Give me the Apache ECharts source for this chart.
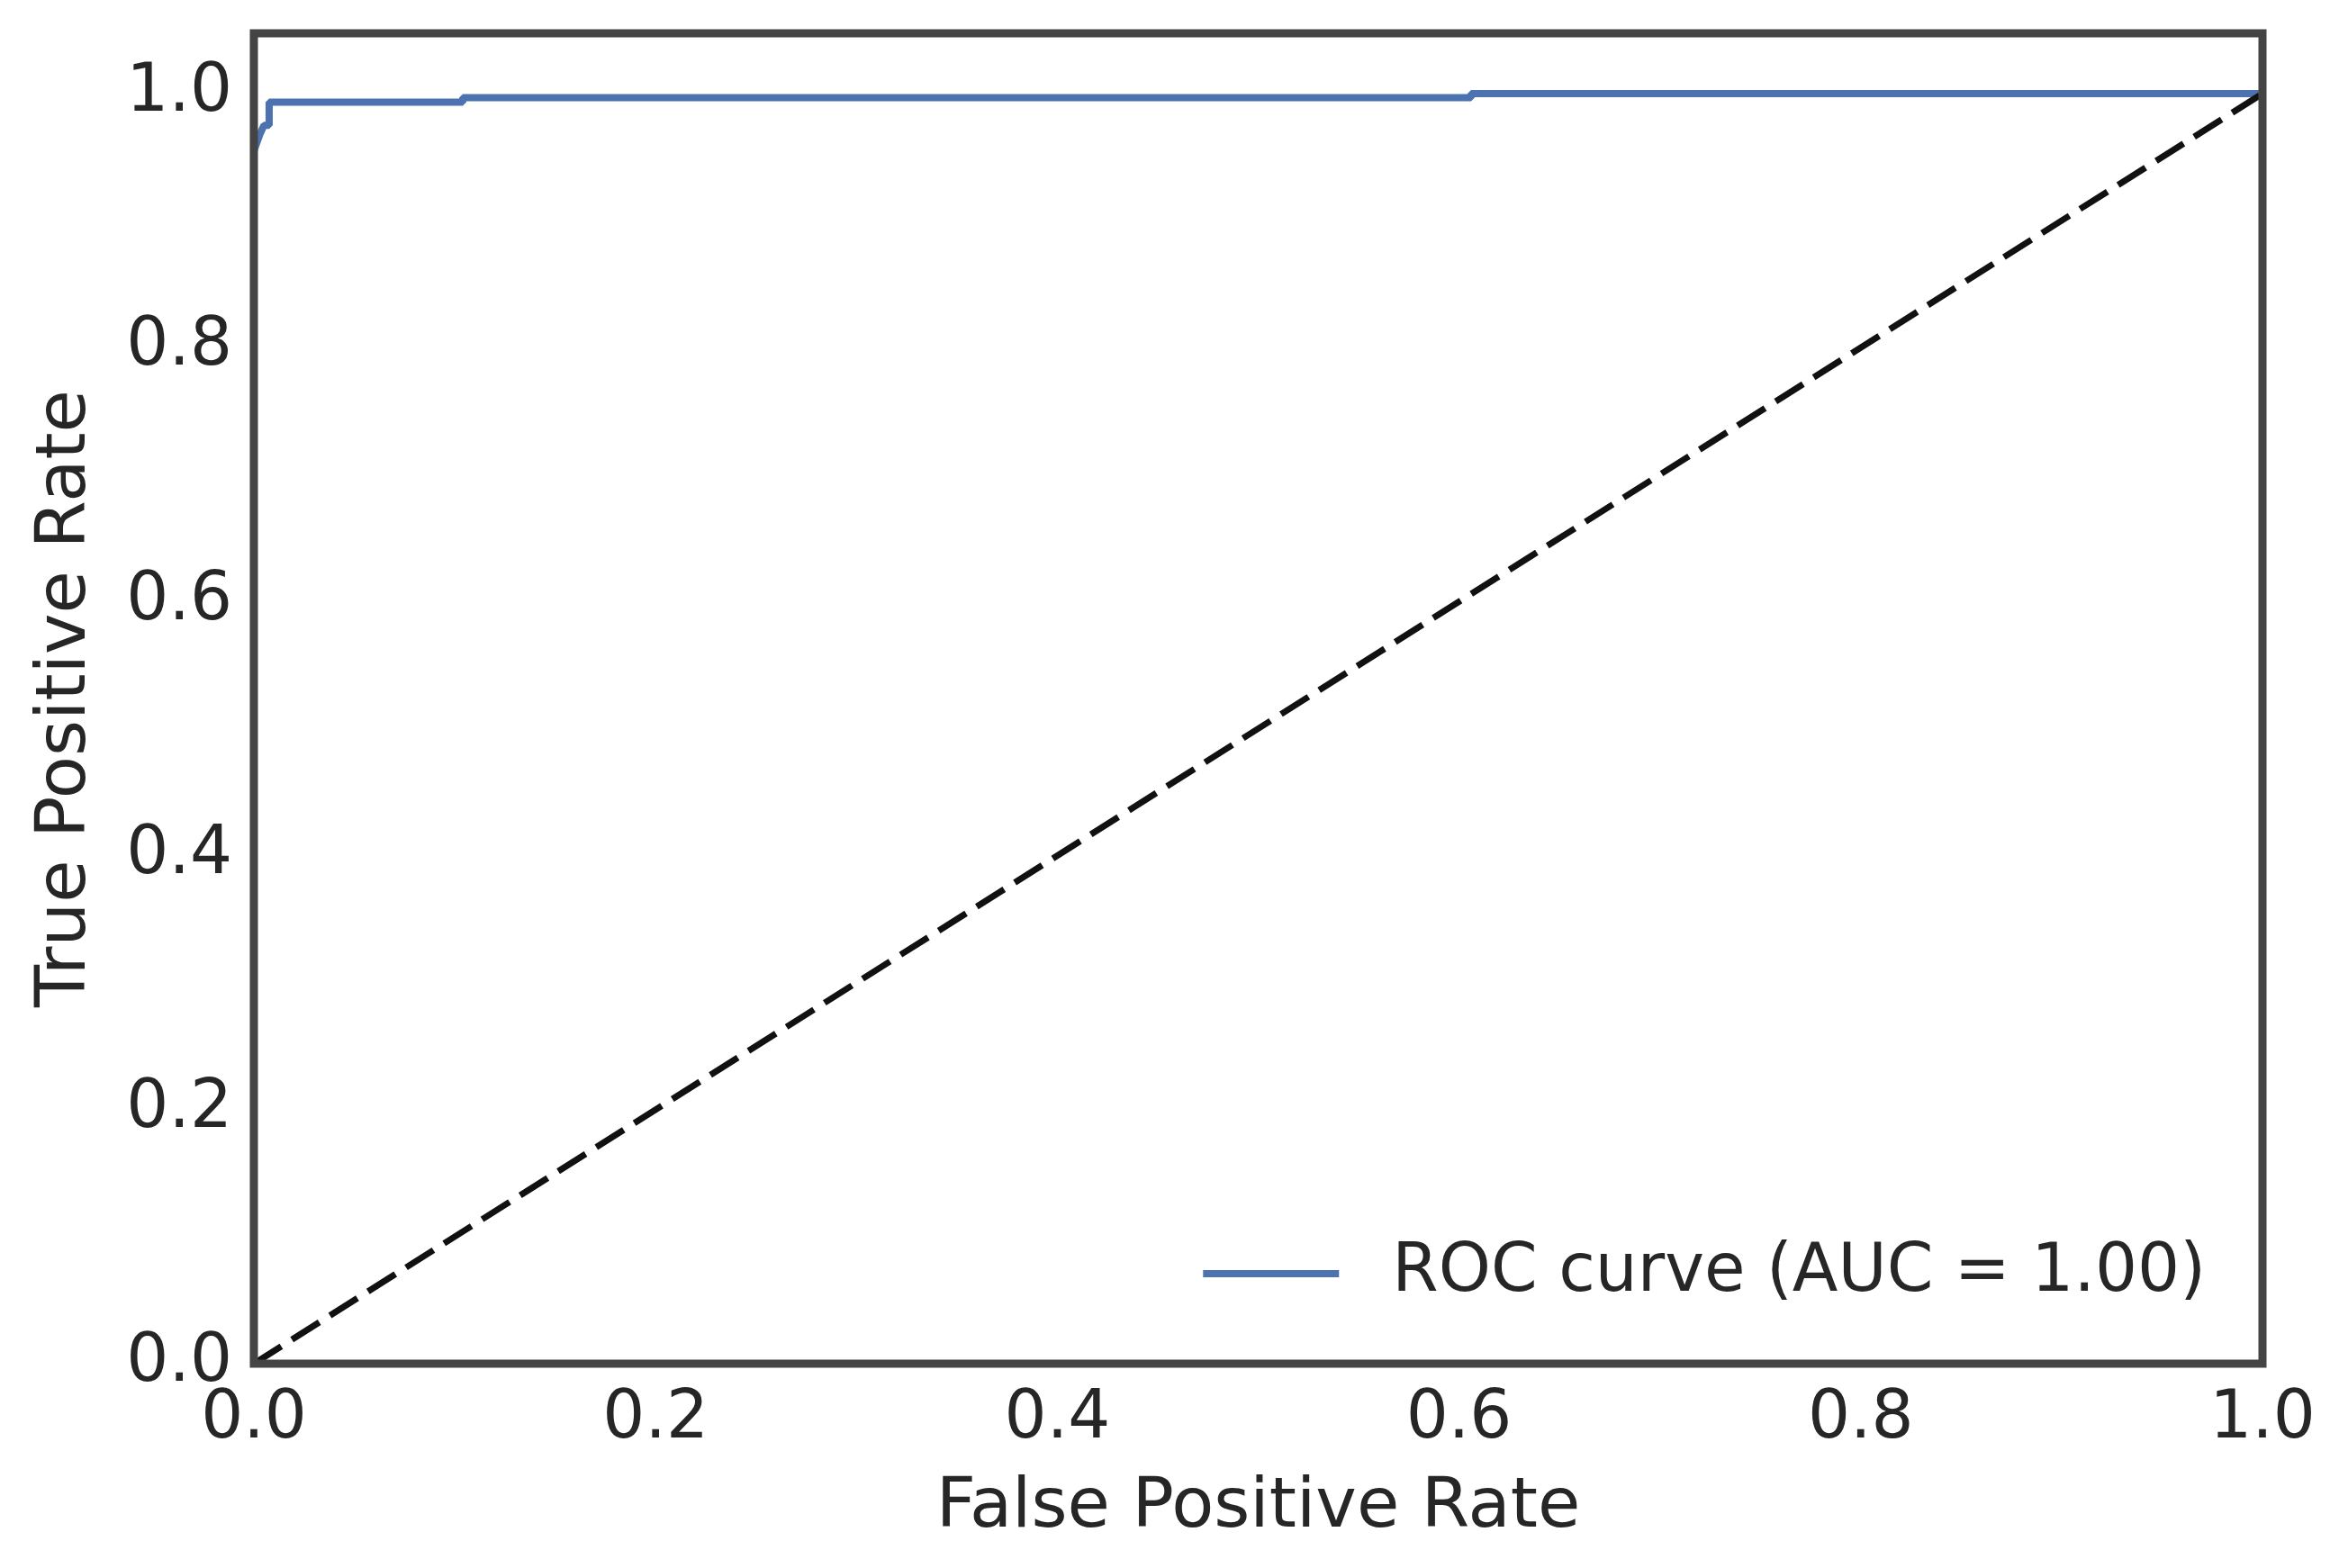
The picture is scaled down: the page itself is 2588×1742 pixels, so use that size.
<!DOCTYPE html>
<html>
<head>
<meta charset="utf-8">
<script src="https://cdn.jsdelivr.net/npm/echarts@6/dist/echarts.min.js"></script>
<style>
html,body{margin:0;padding:0;background:#fff;}
#chart{width:2588px;height:1742px;}
</style>
</head>
<body>
<div id="chart"></div>
<script>
// ROC curve points (False Positive Rate, True Positive Rate)
const rocFpr = [0, 0, 0.003, 0.005, 0.0076, 0.0076, 0.104, 0.104, 0.606, 0.606, 1.0];
const rocTpr = [0, 0.955, 0.968, 0.975, 0.975, 0.9933, 0.9933, 0.9968, 0.9968, 1.0, 1.0];
// chance diagonal
const diagX = [0, 1];
const diagY = [0, 1];
const xTicks = [0.0, 0.2, 0.4, 0.6, 0.8, 1.0];
const yTicks = [0.0, 0.2, 0.4, 0.6, 0.8, 1.0];
const legendLabel = 'ROC curve (AUC = 1.00)';

const rocData = rocFpr.map((x, i) => [x, rocTpr[i]]);
const diagData = diagX.map((x, i) => [x, diagY[i]]);

function tickFmt(ticks) {
  return function (v) {
    for (const t of ticks) if (Math.abs(v - t) < 1e-9) return t.toFixed(1);
    return '';
  };
}

const FONT = 'DejaVu Sans';
const TXT = '#262626';

const chart = echarts.init(document.getElementById('chart'), null, {renderer: 'canvas'});
chart.setOption({
  backgroundColor: '#ffffff',
  animation: false,
  grid: {
    left: 282, right: 2588 - 2513, top: 37, bottom: 1742 - 1515,
    show: true, borderColor: '#444444', borderWidth: 9, backgroundColor: 'transparent', z: 5
  },
  legend: {
    data: [legendLabel],
    right: 133, top: 1368,
    icon: 'rect', itemWidth: 151, itemHeight: 8,
    textStyle: {fontFamily: FONT, fontSize: 74, color: TXT, padding: [0, 0, 0, 54], lineHeight: 84}
  },
  xAxis: {
    type: 'value', min: 0, max: 1, interval: 0.2,
    name: 'False Positive Rate', nameLocation: 'middle', nameGap: 122,
    nameTextStyle: {fontFamily: FONT, fontSize: 77, color: TXT},
    axisLine: {show: false}, axisTick: {show: false}, splitLine: {show: false},
    axisLabel: {fontFamily: FONT, fontSize: 74, color: TXT, margin: 26, formatter: tickFmt(xTicks)}
  },
  yAxis: {
    type: 'value', min: 0, max: 1.0475, interval: 0.2,
    name: 'True Positive Rate', nameLocation: 'middle', nameGap: 170,
    nameTextStyle: {fontFamily: FONT, fontSize: 77, color: TXT},
    axisLine: {show: false}, axisTick: {show: false}, splitLine: {show: false},
    axisLabel: {fontFamily: FONT, fontSize: 74, color: TXT, margin: 24, formatter: tickFmt(yTicks)}
  },
  series: [
    {
      name: legendLabel, type: 'line', data: rocData, showSymbol: false, symbol: 'none', z: 1,
      lineStyle: {color: '#4C72B0', width: 8}, itemStyle: {color: '#4C72B0'}, clip: true
    },
    {
      name: 'chance', type: 'line', data: diagData, showSymbol: false, symbol: 'none', z: 2,
      lineStyle: {color: '#111111', width: 7, type: [36, 14]}, clip: true
    }
  ]
});
</script>
</body>
</html>
